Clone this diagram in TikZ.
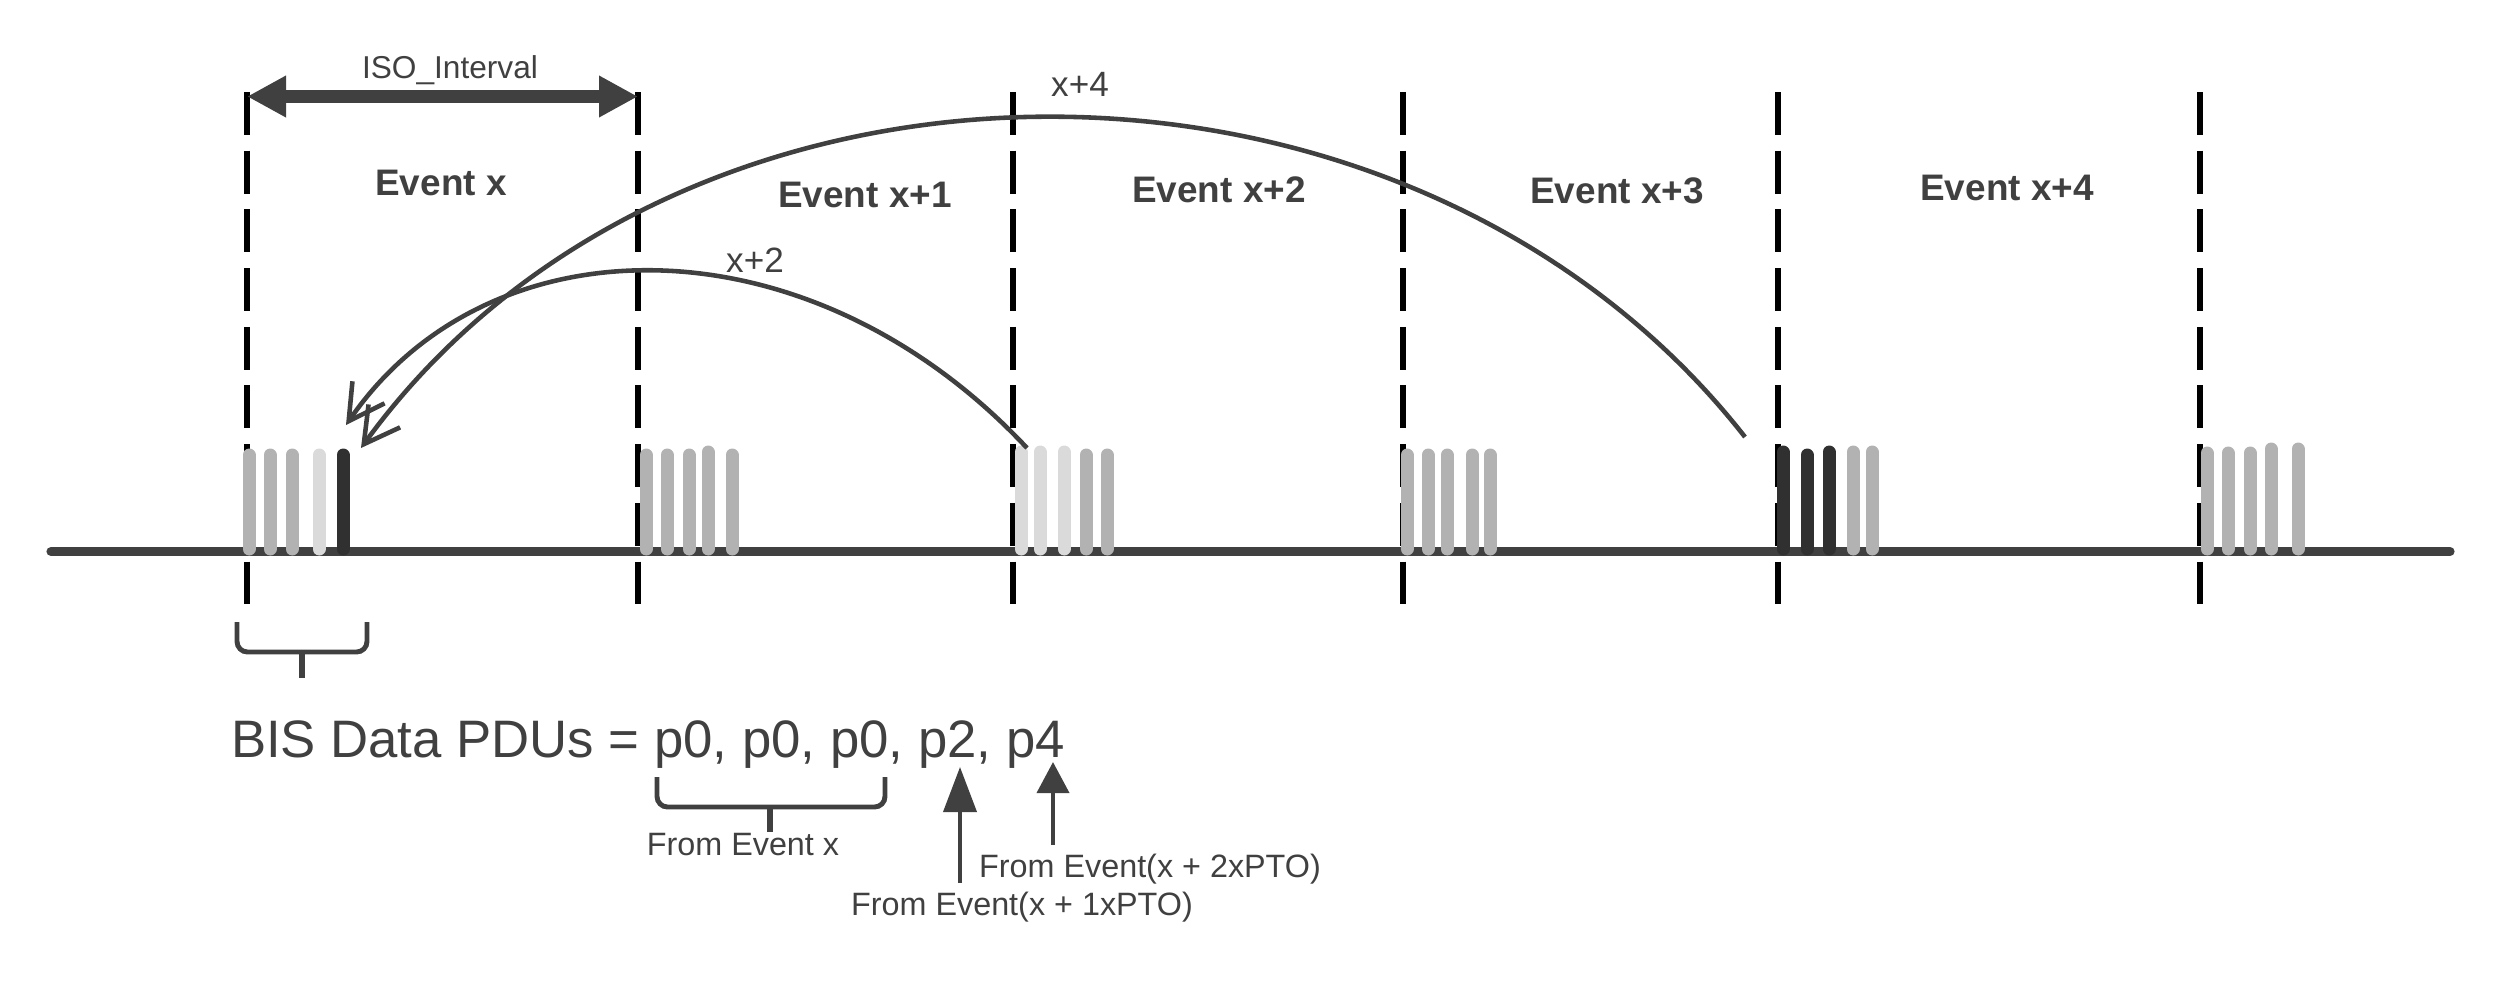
\documentclass[tikz,border=0pt]{standalone}
\usepackage{fontspec}
\setmainfont{Liberation Sans}
\usepackage{tikz}
\usetikzlibrary{arrows.meta, calc}

\definecolor{ink}{HTML}{404040}
\definecolor{pduA}{HTML}{B2B2B2}
\definecolor{pduB}{HTML}{DADADA}
\definecolor{pduC}{HTML}{303030}

\begin{document}
\begin{tikzpicture}[
  bound/.style={black, line width=1.5pt, dash pattern=on 12.2pt off 4.5pt},
  pdu/.style={line width=3.7pt, line cap=round},
  evt/.style={inner sep=0, outer sep=0, text=ink, anchor=base, font=\fontsize{10.5}{12}\selectfont\bfseries},
  note/.style={inner sep=0, outer sep=0, text=ink, anchor=base, font=\fontsize{9.2}{11}\selectfont},
  hop/.style={ink, line width=1.3pt, -{Straight Barb[length=3.5mm, width=3.9mm]}},
  brk/.style={ink, line width=1.4pt, rounded corners=3pt},
  up/.style={ink, line width=1.1pt}
]
  \useasboundingbox (0,0) rectangle (25,-9.92);

  \foreach \x [count=\i from 0] in {2.47,6.38,10.13,14.03,17.78,22.0}
  {
    \coordinate (t\i) at (\x,-0.92);
    \coordinate (d\i) at (\x,-6.09);
    \draw [bound] (t\i) -- (d\i);
  }

  \coordinate (l0) at (0.51,-5.515);
  \coordinate (l1) at (24.5,-5.515);
  \draw [ink, line width=2.6pt, line cap=round] (l0) -- (l1);

  \foreach \x/\y/\c in {2.49/4.55/pduA, 2.70/4.55/pduA, 2.92/4.55/pduA, 3.19/4.55/pduB, 3.43/4.55/pduC,
                        6.46/4.55/pduA, 6.67/4.55/pduA, 6.89/4.55/pduA, 7.08/4.52/pduA, 7.32/4.55/pduA,
                        10.21/4.52/pduB, 10.40/4.52/pduB, 10.64/4.52/pduB, 10.86/4.55/pduA, 11.07/4.55/pduA,
                        14.07/4.55/pduA, 14.28/4.55/pduA, 14.47/4.55/pduA, 14.72/4.55/pduA, 14.90/4.55/pduA,
                        17.83/4.52/pduC, 18.07/4.55/pduC, 18.29/4.52/pduC, 18.53/4.52/pduA, 18.72/4.52/pduA,
                        22.07/4.53/pduA, 22.28/4.53/pduA, 22.50/4.53/pduA, 22.71/4.49/pduA, 22.98/4.49/pduA}
    \draw [pdu, \c] (\x,-\y) -- (\x,-5.49);

  \coordinate (s2) at (10.27,-4.48);
  \coordinate (e2) at (3.46,-4.25);
  \draw [hop] (s2) .. controls (8.1,-2.16) and (4.9,-2.16) .. (e2);
  \coordinate (s4) at (17.45,-4.37);
  \coordinate (e4) at (3.61,-4.48);
  \draw [hop] (s4) .. controls (14.1,-0.09) and (6.8,-0.09) .. (e4);

  \draw [ink, line width=3.7pt, {Triangle[length=3.9mm, width=3.9mm]}-{Triangle[length=3.9mm, width=3.9mm]}]
    ([yshift=-0.45mm]t0) -- ([yshift=-0.45mm]t1);
  \node [note, font=\fontsize{9}{11}\selectfont] (iso) at (4.50,-0.78) {ISO\_Interval};

  \node [evt] (ex) at (4.41,-1.95) {Event x};
  \node [evt] (ex1) at (8.65,-2.07) {Event x+1};
  \node [evt] (ex2) at (12.19,-2.02) {Event x+2};
  \node [evt] (ex3) at (16.17,-2.03) {Event x+3};
  \node [evt] (ex4) at (20.07,-2.00) {Event x+4};

  \node [note, font=\fontsize{10}{12}\selectfont] (h4) at (10.80,-0.96) {x+4};
  \node [note, font=\fontsize{10}{12}\selectfont] (h2) at (7.55,-2.72) {x+2};

  \draw [brk] (2.37,-6.22) |- (3.67,-6.52) -- (3.67,-6.22);
  \draw [up, line width=1.5pt] (3.02,-6.52) -- (3.02,-6.78);

  \node [inner sep=0, outer sep=0, text=ink, anchor=base west, font=\fontsize{15}{18}\selectfont]
    (pdus) at (2.31,-7.57) {BIS Data PDUs = p0, p0, p0, p2, p4};

  \draw [brk] (6.57,-7.77) |- (8.85,-8.07) -- (8.85,-7.77);
  \draw [up, line width=1.5pt] (7.70,-8.07) -- (7.70,-8.32);
  \node [note] (fx) at (7.43,-8.55) {From Event x};

  \coordinate (a1) at (9.60,-8.83);
  \coordinate (p2) at (9.60,-7.67);
  \draw [up, -{Triangle[length=4.5mm, width=3.3mm]}] (a1) -- (p2);
  \coordinate (a2) at (10.53,-8.45);
  \coordinate (p4) at (10.53,-7.62);
  \draw [up, -{Triangle[length=3.1mm, width=3.2mm]}] (a2) -- (p4);

  \node [note] (f2) at (11.50,-8.77) {From Event(x + 2xPTO)};
  \node [note] (f1) at (10.22,-9.15) {From Event(x + 1xPTO)};
\end{tikzpicture}
\end{document}
